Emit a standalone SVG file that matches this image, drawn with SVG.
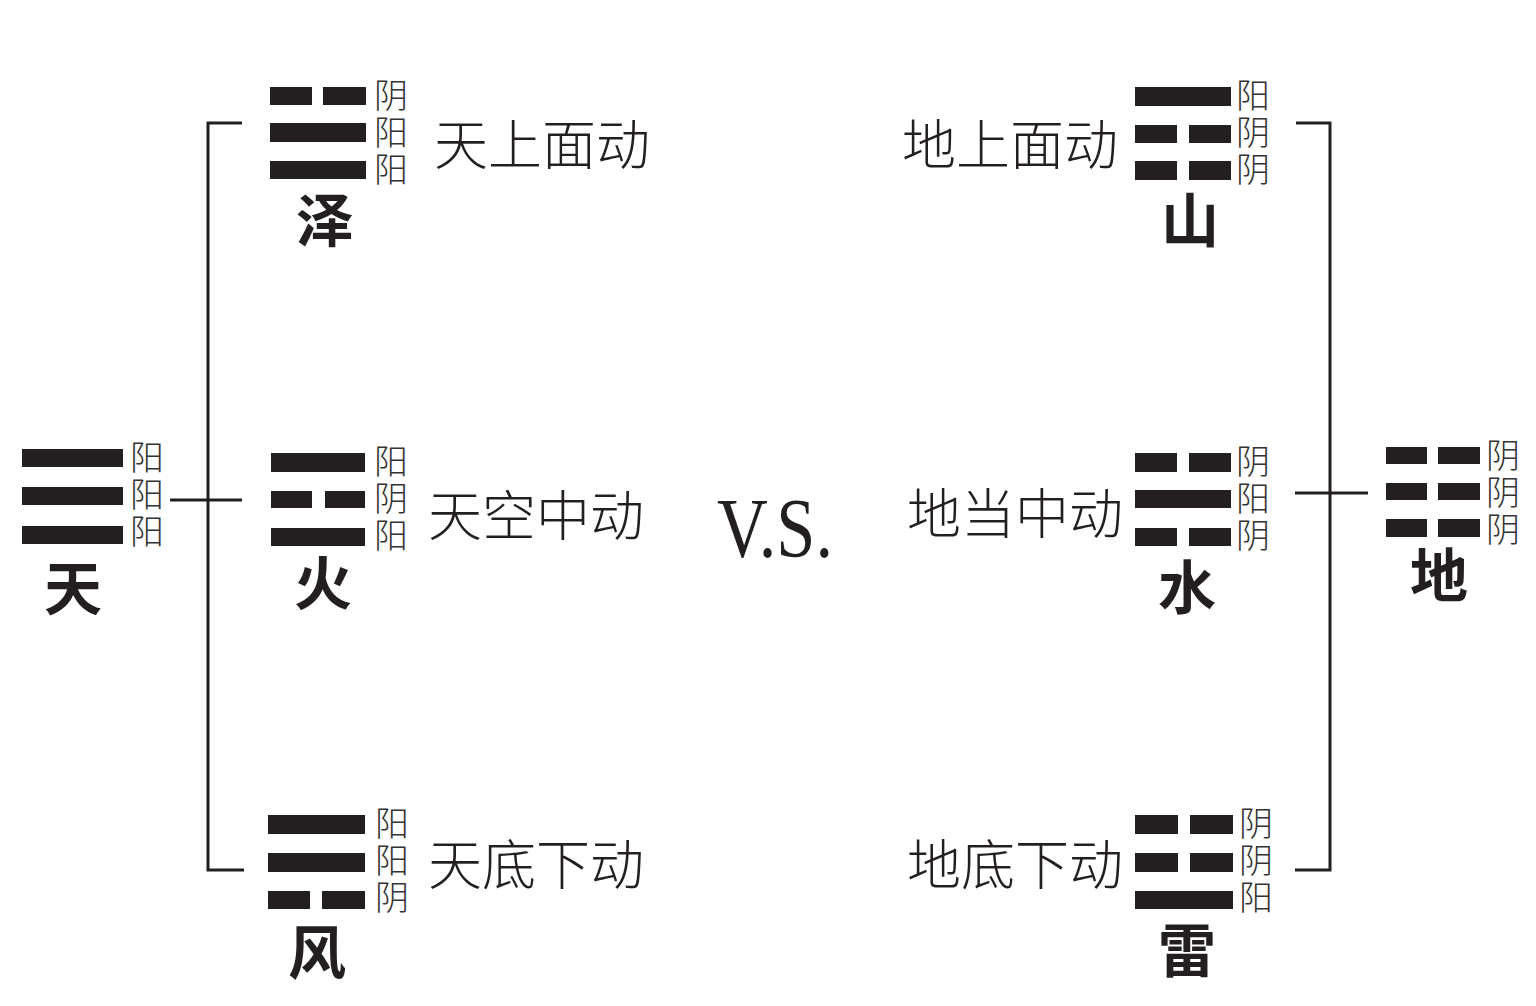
<svg xmlns="http://www.w3.org/2000/svg" width="1536" height="1006" viewBox="0 0 1536 1006">
<style>
.bar{fill:#231f20}
.lbl{font-family:"Noto Sans CJK SC",sans-serif;font-size:34px;font-weight:300;fill:#333;writing-mode:vertical-rl;letter-spacing:3px}
.desc{font-family:"Noto Sans CJK SC",sans-serif;font-size:54px;font-weight:300;fill:#231f20;dominant-baseline:central}
.name{font-family:"Noto Sans CJK SC",sans-serif;font-size:58px;font-weight:bold;fill:#231f20;text-anchor:middle;dominant-baseline:central}
.ln{stroke:#231f20;stroke-width:3;fill:none}
</style>
<rect width="1536" height="1006" fill="#fff"/>
<g id="connectors">
<path class="ln" d="M242,123 H208 V870 H244 M170,500 H242"/>
<path class="ln" d="M1296,123 H1330 V870 H1295 M1295,493 H1368"/>
</g>
<g id="tian">
<rect class="bar" x="22" y="449" width="101" height="18"/>
<rect class="bar" x="22" y="487" width="101" height="18"/>
<rect class="bar" x="22" y="526" width="101" height="18"/>
<text class="lbl" x="147" y="440">阳阳阳</text>
<text class="name" x="73" y="585">天</text>
</g>
<g id="ze">
<rect class="bar" x="270" y="87" width="42" height="18"/>
<rect class="bar" x="323" y="87" width="43" height="18"/>
<rect class="bar" x="270" y="123" width="96" height="19"/>
<rect class="bar" x="270" y="161" width="96" height="18"/>
<text class="lbl" x="391" y="78">阴阳阳</text>
<text class="name" x="325" y="217">泽</text>
<text class="desc" x="434" y="141">天上面动</text>
</g>
<g id="huo">
<rect class="bar" x="271" y="453" width="94" height="19"/>
<rect class="bar" x="271" y="491" width="41" height="17"/>
<rect class="bar" x="325" y="491" width="40" height="17"/>
<rect class="bar" x="271" y="528" width="94" height="18"/>
<text class="lbl" x="391" y="444">阳阴阳</text>
<text class="name" x="323" y="580">火</text>
<text class="desc" x="428" y="512">天空中动</text>
</g>
<g id="feng">
<rect class="bar" x="268" y="815" width="97" height="19"/>
<rect class="bar" x="268" y="853" width="97" height="19"/>
<rect class="bar" x="268" y="891" width="42" height="18"/>
<rect class="bar" x="322" y="891" width="43" height="18"/>
<text class="lbl" x="392" y="806">阳阳阴</text>
<text class="name" x="317" y="949">风</text>
<text class="desc" x="428" y="861">天底下动</text>
</g>
<g id="vs">
<text x="717" y="557" font-family="Liberation Serif,serif" font-size="85" fill="#231f20" textLength="116" lengthAdjust="spacingAndGlyphs">V.S.</text>
</g>
<g id="shan">
<rect class="bar" x="1135" y="87" width="96" height="19"/>
<rect class="bar" x="1135" y="125" width="42" height="18"/>
<rect class="bar" x="1189" y="125" width="42" height="18"/>
<rect class="bar" x="1135" y="161" width="42" height="19"/>
<rect class="bar" x="1189" y="161" width="42" height="19"/>
<text class="lbl" x="1253" y="78">阳阴阴</text>
<text class="name" x="1190" y="217">山</text>
<text class="desc" x="902" y="141">地上面动</text>
</g>
<g id="shui">
<rect class="bar" x="1135" y="453" width="42" height="19"/>
<rect class="bar" x="1189" y="453" width="42" height="19"/>
<rect class="bar" x="1135" y="490" width="96" height="18"/>
<rect class="bar" x="1135" y="528" width="42" height="18"/>
<rect class="bar" x="1189" y="528" width="42" height="18"/>
<text class="lbl" x="1253" y="444">阴阳阴</text>
<text class="name" x="1187" y="584">水</text>
<text class="desc" x="907" y="510">地当中动</text>
</g>
<g id="di">
<rect class="bar" x="1386" y="447" width="41" height="17"/>
<rect class="bar" x="1438" y="447" width="42" height="17"/>
<rect class="bar" x="1386" y="483" width="41" height="17"/>
<rect class="bar" x="1438" y="483" width="42" height="17"/>
<rect class="bar" x="1386" y="519" width="41" height="18"/>
<rect class="bar" x="1438" y="519" width="42" height="18"/>
<text class="lbl" x="1503" y="438">阴阴阴</text>
<text class="name" x="1439" y="572">地</text>
</g>
<g id="lei">
<rect class="bar" x="1135" y="815" width="43" height="19"/>
<rect class="bar" x="1190" y="815" width="43" height="19"/>
<rect class="bar" x="1135" y="853" width="43" height="19"/>
<rect class="bar" x="1190" y="853" width="43" height="19"/>
<rect class="bar" x="1135" y="891" width="98" height="18"/>
<text class="lbl" x="1256" y="806">阴阴阳</text>
<text class="name" x="1187" y="947">雷</text>
<text class="desc" x="907" y="861">地底下动</text>
</g>
</svg>
